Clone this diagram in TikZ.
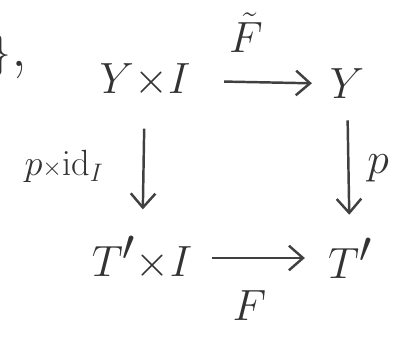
\documentclass[tikz,border=0pt]{standalone}
\usetikzlibrary{arrows.meta, positioning}
\begin{document}
\begin{tikzpicture}[x=0.02cm, y=-0.02cm,
    obj/.style={font=\fontsize{36}{40}\selectfont, text=black!80, inner sep=0pt},
    lab/.style={font=\fontsize{28}{32}\selectfont, text=black!80, inner sep=0pt},
    small lab/.style={font=\fontsize{22}{26}\selectfont, text=black!80, inner sep=0pt},
    map/.style={-{Straight Barb[length=8pt, width=14pt, line width=1.4pt]}, line width=1.4pt, draw=black!75}
]
    \useasboundingbox (0,0) rectangle (398,338);

    \node[obj, anchor=east] (brace) at (28,56) {$\}$,};
    \node[obj] (yi) at (145,80) {$Y{\scriptstyle\times}I$};
    \node[obj] (y) at (347,84) {$Y$};
    \node[obj] (ti) at (142,258) {$T'{\scriptstyle\times}I$};
    \node[obj] (t) at (350,258) {$T'$};

    \draw[map, shorten <=19pt, shorten >=10pt] (yi) -- (y)
        node[midway, above=16pt, lab, xshift=-8pt] (ftilde) {$\tilde F$};
    \draw[map, shorten <=11pt, shorten >=13pt] (ti) -- (t)
        node[midway, below=18pt, lab, xshift=-6pt] (f) {$F$};
    \draw[map, shorten <=18pt, shorten >=15pt] (yi) -- (ti)
        node[midway, left=22pt, small lab] (pid) {$p{\scriptstyle\times}\mathrm{id}_I$};
    \draw[map, shorten <=12pt, shorten >=13pt] (y) -- (t)
        node[midway, right=10pt, lab] (p) {$p$};
\end{tikzpicture}
\end{document}
